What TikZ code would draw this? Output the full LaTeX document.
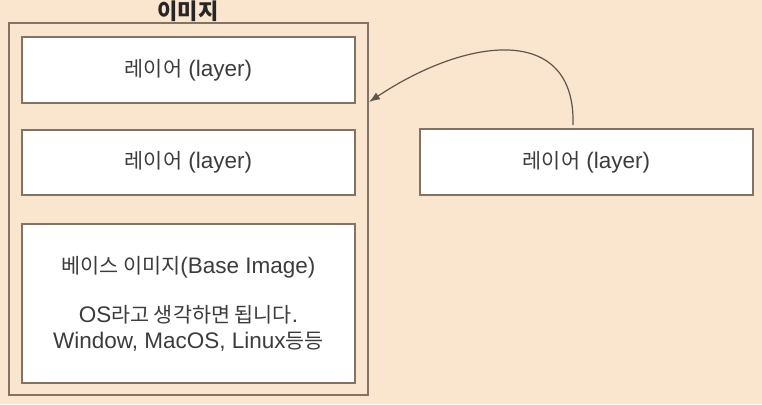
\documentclass[tikz,border=0pt]{standalone}
\usepackage{fontspec}
\setmainfont{Liberation Sans}
\newfontfamily\kr[Scale=0.92]{Noto Sans CJK KR}
\usetikzlibrary{positioning,arrows.meta,calc}
\definecolor{bgpeach}{RGB}{250,229,206}
\definecolor{edgegray}{RGB}{130,115,100}
\definecolor{arrowgray}{RGB}{95,85,75}
\definecolor{txtgray}{RGB}{60,60,60}

\begin{document}
\begin{tikzpicture}[>={Latex[length=11pt,width=8pt]}, x=1pt, y=-1pt,
	layer/.style={draw=edgegray, line width=1.1pt, fill=white,
		minimum width=333pt, minimum height=66pt, inner sep=0pt,
		text=txtgray, font=\fontsize{22.5}{26}\selectfont}]
	\fill[bgpeach] (0,0) rectangle (762,404);
	\useasboundingbox (0,0) rectangle (762,404);

	\node[draw=edgegray, line width=1.1pt, minimum width=359pt,
		  minimum height=372pt] (img) at (188.5,209) {};
	\node[font=\fontsize{24}{28}\selectfont\kr\bfseries, text=black!85]
		  (title) at (188,11) {이미지};

	\node[layer] (L1) at (188.5,70) {{\kr 레이어} (layer)};
	\node[layer, minimum height=65pt] (L2) at (188.5,162.5) {{\kr 레이어} (layer)};
	\node[layer, minimum height=159pt, align=center]
		  (base) at (188.5,303.5)
		  {{\kr 베이스 이미지}(Base Image)\\[23pt]
		   OS{\kr 라고 생각하면 됩니다}.\\
		   Window, MacOS, Linux{\kr 등등}};

	\node[layer] (new) at (586.5,162) {{\kr 레이어} (layer)};

	\coordinate (src) at (573,125);
	\coordinate (tgt) at (369,102);
	\draw[->, arrowgray, line width=1.2pt]
		  (src) .. controls (576,25) and (470,35) .. (tgt);
\end{tikzpicture}
\end{document}
